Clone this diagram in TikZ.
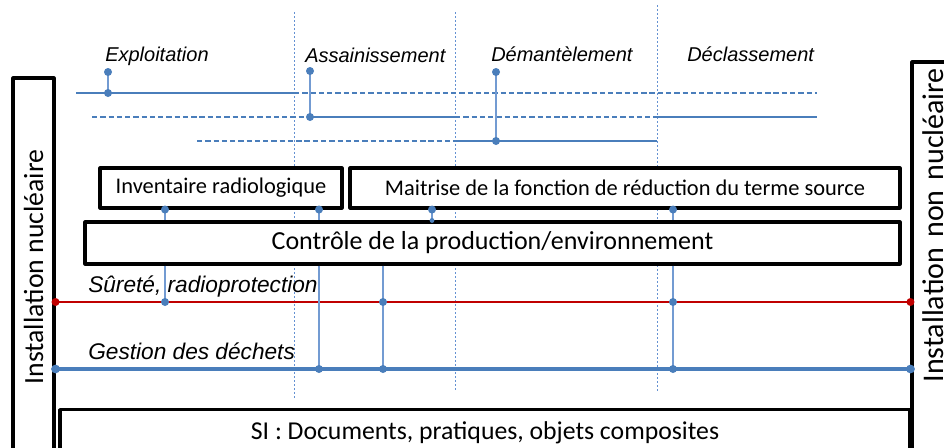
\documentclass[tikz,border=0pt]{standalone}
\usepackage{fontspec}
\setmainfont{Carlito}
\newfontfamily\labelfont{Liberation Sans}
\definecolor{phase}{RGB}{74,126,187}
\definecolor{stemc}{RGB}{115,155,210}
\definecolor{sepc}{RGB}{100,145,210}
\definecolor{surete}{RGB}{192,0,0}
\tikzset{
  box/.style={draw=black, line width=2.3pt, fill=white, inner sep=0pt, font=\fontsize{16.8}{20}\selectfont},
  phaseline/.style={draw=phase, line width=1.6pt},
  phasedash/.style={phaseline, dash pattern=on 4pt off 2.2pt},
  sepline/.style={draw=sepc, line width=0.7pt, dash pattern=on 1.6pt off 1.4pt},
  stem/.style={draw=stemc, line width=1pt},
  lab/.style={font=\labelfont\itshape\fontsize{15}{18}\selectfont, inner sep=0pt, anchor=base west},
  biglab/.style={lab, font=\labelfont\itshape\fontsize{17}{20}\selectfont},
}
\begin{document}
\begin{tikzpicture}[x=0.75pt, y=-0.75pt, line join=round, line cap=butt]
	\useasboundingbox (0,0) rectangle (944,447);
	% \draw[gray!30] (0,0) grid[step=50] (944,447);
	\draw[sepline] (294,12) -- (294,398);
	\draw[sepline] (455,12) -- (455,391);
	\draw[sepline] (657,5) -- (657,392);
	\node[lab] (expl) at (105,61) {Exploitation};
	\node[lab] (assain) at (305,62) {Assainissement};
	\node[lab] (demant) at (491,61) {Démantèlement};
	\node[lab] (declass) at (687,61) {Déclassement};
	\coordinate (expl-top) at (108,72);
	\coordinate (expl-in) at (108,93);
	\coordinate (assain-top) at (310,71);
	\coordinate (assain-in) at (310,117);
	\coordinate (demant-top) at (496,72);
	\coordinate (demant-in) at (496,141);
	\draw[phaseline] (76,93) -- (294,93);
	\draw[phasedash] (294,93) -- (817,93);
	\draw[phasedash] (92,117) -- (assain-in);
	\draw[phaseline] (assain-in) -- (455,117);
	\draw[phasedash] (455,117) -- (657,117);
	\draw[phaseline] (657,117) -- (817,117);
	\draw[phasedash] (197,141) -- (455,141);
	\draw[phaseline] (455,141) -- (657,141);
	\draw[stem] (expl-top) -- (expl-in);
	\draw[stem] (assain-top) -- (assain-in);
	\draw[stem] (demant-top) -- (demant-in);
	\fill[phase] (expl-top) circle (3pt) (expl-in) circle (3pt);
	\fill[phase] (assain-top) circle (3pt) (assain-in) circle (3pt);
	\fill[phase] (demant-top) circle (3pt) (demant-in) circle (3pt);
	% boites
	\node[box, minimum width=181.5pt, minimum height=30pt] (inv) at (221,188) {Inventaire radiologique};
	\node[box, minimum width=412.5pt, minimum height=30pt] (mait) at (625,188) {Maitrise de la fonction de réduction du terme source};
	\node[box, minimum width=611.25pt, minimum height=31.5pt, font=\fontsize{19.5}{22}\selectfont] (ctrl) at (492.5,243) {Contrôle de la production/environnement};
	\node[box, anchor=north, minimum width=637.5pt, inner ysep=10.5pt, text height=12.2pt, text depth=60pt, font=\fontsize{19.3}{22}\selectfont] (si) at (485,408) {SI : Documents, pratiques, objets composites};
	\node[box, rotate=90, minimum width=283.5pt, minimum height=30.75pt, font=\fontsize{20.8}{24}\selectfont] (nuc) at (33.5,267) {Installation nucléaire};
	\node[box, rotate=90, minimum width=306pt, minimum height=31.5pt, inner xsep=4.5pt, text width=297pt, align=right, font=\fontsize{22.5}{26}\selectfont] (nonnuc) at (933,266) {Installation non nucléaire};
	\node[biglab] (surete-lab) at (88,292) {Sûreté, radioprotection};
	\node[biglab] (dechets-lab) at (88,359) {Gestion des déchets};
	\coordinate (r1) at (165,302);
	\coordinate (r2) at (383,302);
	\coordinate (r3) at (673,302);
	\coordinate (g1) at (319,369);
	\coordinate (g2) at (383,369);
	\coordinate (g3) at (673,369);
	\coordinate (m1) at (432,208);
	% rotated nodes: south = right side, north = left side
	\draw[surete, line width=1.5pt] (nuc.south |- r1) -- (nonnuc.north |- r1);
	\draw[phase, line width=2.3pt] (nuc.south |- g1) -- (nonnuc.north |- g1);
	\draw[stem] (inv.south -| r1) -- (ctrl.north -| r1);
	\draw[stem] (ctrl.south -| r1) -- (r1);
	\draw[stem] (inv.south -| g1) -- (ctrl.north -| g1);
	\draw[stem] (ctrl.south -| g1) -- (g1);
	\draw[stem] (mait.south -| m1) -- (ctrl.north -| m1);
	\draw[stem] (ctrl.south -| r2) -- (g2);
	\draw[stem] (mait.south -| r3) -- (ctrl.north -| r3);
	\draw[stem] (ctrl.south -| r3) -- (g3);
	\fill[phase] (inv.south -| r1) circle (3pt) (inv.south -| g1) circle (3pt);
	\fill[phase] (mait.south -| m1) circle (3pt) (mait.south -| r3) circle (3pt);
	\fill[phase] (ctrl.north -| m1) circle (1.8pt);
	\fill[phase] (r1) circle (3pt) (r2) circle (3pt) (r3) circle (3pt);
	\fill[phase] (g1) circle (3pt) (g2) circle (3pt) (g3) circle (3pt);
	\fill[surete] (nuc.south |- r1) circle (3pt) (nonnuc.north |- r1) circle (3pt);
	\fill[phase] (nuc.south |- g1) circle (3.3pt) (nonnuc.north |- g1) circle (3.3pt);
\end{tikzpicture}
\end{document}
